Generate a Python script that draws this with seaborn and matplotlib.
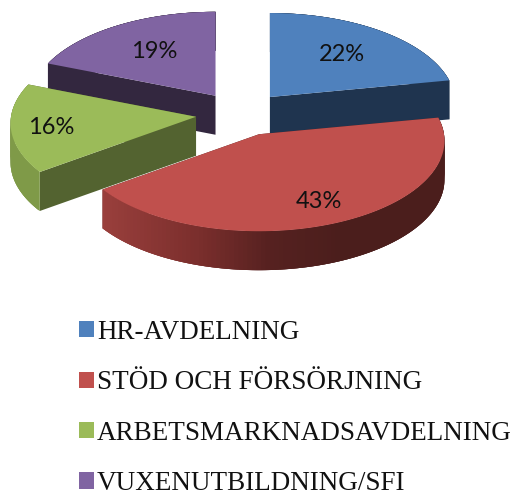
# plot.py
import numpy as np
import matplotlib
matplotlib.use("Agg")
import matplotlib.pyplot as plt
from matplotlib.colors import to_rgb
from matplotlib.patches import Patch
import seaborn as sns

# Budget shares
categories = ["HR-AVDELNING", "STÖD OCH FÖRSÖRJNING", "ARBETSMARKNADSAVDELNING", "VUXENUTBILDNING/SFI"]
shares = [22, 43, 16, 19]

# Colours
top_colors = sns.color_palette(["#4f81bd", "#c0504d", "#9bbb59", "#8064a2"])
cut_colors = ["#1f344f", "#4b1e1c", "#536330", "#33273f"]
rim_colors = ["#1f344f", None, "#7f9a48", "#33273f"]

# Fake 3D projection, in pixels
cx, cy = 241, 114
rx, ry = 185, 90
persp = 0.072
explode = 0.245
depth = 39
label_radius = [0.63, 0.77, 0.785, 0.615]

sns.set_theme(style="white")


def project(theta, r=1.0):
    # theta is clockwise from 12 o'clock
    c = np.cos(theta) * r
    w = 1 + persp * c
    return rx * np.sin(theta) * r / w, -ry * c / w


def red_rim(x):
    # the front of the big slice gets darker to the right
    stops = [103, 200, 270, 340]
    cols = np.array([to_rgb(c) for c in ["#9a3f3c", "#7a2e2c", "#562120", "#4b1e1c"]])
    return [np.interp(x, stops, cols[:, i]) for i in range(3)]


fig, ax = plt.subplots(figsize=(5.15, 4.95), dpi=100)
fig.subplots_adjust(0, 0, 1, 1)
ax.set_xlim(0, 515)
ax.set_ylim(495, 0)
ax.axis("off")

edges = np.cumsum([0] + shares) / sum(shares) * 2 * np.pi
order = [3, 0, 2, 1]  # back to front

for i in order:
    a0, a1 = edges[i], edges[i + 1]
    mid = (a0 + a1) / 2
    ax_, ay_ = cx + explode * rx * np.sin(mid), cy - explode * ry * np.cos(mid)
    z = 10 + order.index(i) * 10

    th = np.linspace(a0, a1, 120)
    px, py = project(th)
    px, py = px + ax_, py + ay_

    # radial cuts
    for k in [0, -1]:
        ax.fill([ax_, px[k], px[k], ax_], [ay_, py[k], py[k] + depth, ay_ + depth],
                color=cut_colors[i], lw=0, zorder=z)
    # outer rim, strips overlap so no seams show
    for k in range(len(th) - 1):
        col = rim_colors[i] or red_rim((px[k] + px[k + 1]) / 2)
        e = min(k + 3, len(th) - 1)
        ax.fill([px[k], px[e], px[e], px[k]],
                [py[k], py[e], py[e] + depth, py[k] + depth],
                color=col, lw=0, zorder=z + 1)
    # top face
    ax.fill(np.r_[ax_, px], np.r_[ay_, py], color=top_colors[i], lw=0, zorder=z + 2)

    lx, ly = project(mid, label_radius[i])
    ax.text(ax_ + lx, ay_ + ly + (2 if i == 2 else 0), f"{shares[i]}%", ha="center", va="center",
            fontsize=17, family="Lato", color="#111111", zorder=60)

handles = [Patch(facecolor=c, edgecolor="none") for c in top_colors]
ax.legend(handles, categories, loc="center left", bbox_to_anchor=(79, 408),
          bbox_transform=ax.transData, frameon=False, handlelength=0.55, handleheight=0.55,
          handletextpad=0.12, labelspacing=0.94, borderpad=0, borderaxespad=0,
          prop={"family": "Liberation Serif", "size": 19.5}, labelcolor="#111111")

fig.savefig("out.png", dpi=100)
